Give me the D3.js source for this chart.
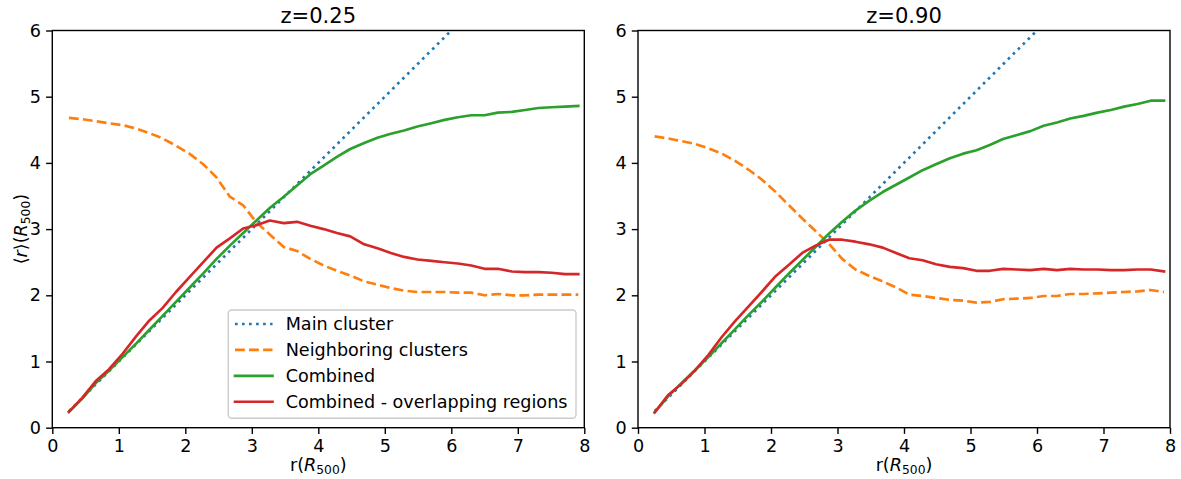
<!DOCTYPE html>
<html>
<head>
<meta charset="utf-8">
<script src="https://cdn.jsdelivr.net/npm/d3@7"></script>
<style>
  html, body { margin: 0; padding: 0; background: #ffffff; }
  svg { display: block; }
  text { font-family: "DejaVu Sans", sans-serif; fill: #000; }
</style>
</head>
<body>
<svg id="chart" width="1181" height="479"></svg>
<script>
// ---------------- data ----------------
const rGrid = [0.25, 0.45, 0.65, 0.85, 1.06, 1.26, 1.46, 1.66, 1.86, 2.06, 2.27, 2.47, 2.67, 2.87, 3.07, 3.27, 3.48, 3.68, 3.88, 4.08,
               4.28, 4.48, 4.69, 4.89, 5.09, 5.29, 5.49, 5.70, 5.90, 6.10, 6.30, 6.50, 6.70, 6.91, 7.11, 7.31, 7.51, 7.71, 7.91];

// z = 0.25
const mainZ025 = [0.25, 0.45, 0.65, 0.85, 1.06, 1.26, 1.46, 1.66, 1.86, 2.06, 2.27, 2.47, 2.67, 2.87, 3.07, 3.27, 3.48, 3.68, 3.88, 4.08,
                  4.28, 4.48, 4.69, 4.89, 5.09, 5.29, 5.49, 5.70, 5.90, 6.10, 6.30, 6.50, 6.70, 6.91, 7.11, 7.31, 7.51, 7.71, 7.91];
const neighZ025 = [4.68, 4.66, 4.63, 4.60, 4.57, 4.52, 4.45, 4.37, 4.26, 4.14, 3.98, 3.78, 3.49, 3.36, 3.10, 2.92, 2.73, 2.67, 2.55, 2.45,
                   2.37, 2.30, 2.21, 2.16, 2.11, 2.07, 2.05, 2.05, 2.05, 2.04, 2.04, 2.00, 2.02, 2.00, 2.00, 2.01, 2.01, 2.01, 2.01];
const combZ025 = [0.24, 0.44, 0.67, 0.86, 1.07, 1.27, 1.48, 1.69, 1.90, 2.11, 2.33, 2.55, 2.75, 2.94, 3.13, 3.32, 3.49, 3.66, 3.83, 3.96,
                  4.09, 4.21, 4.30, 4.38, 4.44, 4.49, 4.55, 4.60, 4.65, 4.69, 4.72, 4.72, 4.76, 4.77, 4.80, 4.83, 4.84, 4.85, 4.86];
const overlapZ025 = [0.24, 0.45, 0.70, 0.88, 1.12, 1.38, 1.62, 1.81, 2.05, 2.27, 2.50, 2.72, 2.86, 3.01, 3.06, 3.13, 3.09, 3.11, 3.05, 3.00,
                     2.94, 2.89, 2.77, 2.71, 2.64, 2.58, 2.54, 2.52, 2.50, 2.48, 2.45, 2.40, 2.40, 2.36, 2.35, 2.35, 2.34, 2.32, 2.32];

// z = 0.90
const mainZ090 = [0.25, 0.45, 0.65, 0.85, 1.06, 1.26, 1.46, 1.66, 1.86, 2.06, 2.27, 2.47, 2.67, 2.87, 3.07, 3.27, 3.48, 3.68, 3.88, 4.08,
                  4.28, 4.48, 4.69, 4.89, 5.09, 5.29, 5.49, 5.70, 5.90, 6.10, 6.30, 6.50, 6.70, 6.91, 7.11, 7.31, 7.51, 7.71, 7.91];
const neighZ090 = [4.40, 4.37, 4.33, 4.29, 4.22, 4.14, 4.03, 3.90, 3.75, 3.57, 3.36, 3.16, 2.97, 2.78, 2.55, 2.39, 2.29, 2.21, 2.12, 2.01,
                   1.99, 1.96, 1.93, 1.92, 1.89, 1.90, 1.94, 1.95, 1.96, 1.99, 1.99, 2.02, 2.02, 2.03, 2.04, 2.05, 2.06, 2.08, 2.05];
const combZ090 = [0.23, 0.47, 0.67, 0.86, 1.07, 1.28, 1.49, 1.70, 1.90, 2.11, 2.33, 2.53, 2.73, 2.93, 3.11, 3.28, 3.43, 3.56, 3.67, 3.78,
                  3.89, 3.98, 4.07, 4.14, 4.19, 4.27, 4.36, 4.42, 4.48, 4.56, 4.61, 4.67, 4.71, 4.76, 4.80, 4.85, 4.89, 4.94, 4.94];
const overlapZ090 = [0.23, 0.49, 0.66, 0.86, 1.10, 1.37, 1.61, 1.83, 2.05, 2.28, 2.46, 2.64, 2.75, 2.84, 2.84, 2.81, 2.77, 2.72, 2.64, 2.56,
                     2.53, 2.47, 2.43, 2.41, 2.37, 2.37, 2.40, 2.39, 2.38, 2.40, 2.38, 2.40, 2.39, 2.39, 2.38, 2.38, 2.39, 2.39, 2.36];

const panelTitles = ["z=0.25", "z=0.90"];
const seriesNames = ["Main cluster", "Neighboring clusters", "Combined", "Combined - overlapping regions"];
const xTicks = [0, 1, 2, 3, 4, 5, 6, 7, 8];
const yTicks = [0, 1, 2, 3, 4, 5, 6];
const xDomain = [0, 8];
const yDomain = [0, 6];

// ---------------- styles / layout ----------------
const lw = 2.65;
const seriesStyles = [
  { color: "#1f77b4", dash: `${1 * lw},${1.65 * lw}` },
  { color: "#ff7f0e", dash: `${3.7 * lw},${1.6 * lw}` },
  { color: "#2ca02c", dash: null },
  { color: "#d62728", dash: null }
];
const fontSize = 17.6;
const titleSize = 21.1;
const plotTop = 30.5, plotBottom = 427.7;
const panelLayout = [
  { left: 52.3, right: 584.3 },
  { left: 638.0, right: 1170.0 }
];
const panelData = [
  [mainZ025, neighZ025, combZ025, overlapZ025],
  [mainZ090, neighZ090, combZ090, overlapZ090]
];

const svg = d3.select("#chart");
svg.append("rect").attr("width", 1181).attr("height", 479).attr("fill", "#fff");
const defs = svg.append("defs");

function addMathLabel(sel, parts) {
  // parts: array of [text, kind] where kind = 'n' normal, 'i' italic, 's' subscript
  let prevSub = false;
  parts.forEach(([t, kind]) => {
    const ts = sel.append("tspan").text(t);
    if (kind === "i") ts.attr("font-style", "italic");
    if (kind === "s") {
      ts.attr("font-size", (fontSize * 0.7).toFixed(2) + "px").attr("dy", "0.22em");
      prevSub = true;
    } else if (prevSub) {
      ts.attr("dy", (-0.22 * 0.7 / 1).toFixed(3) + "em");
      prevSub = false;
    }
  });
}

panelLayout.forEach((pl, pi) => {
  const x = d3.scaleLinear().domain(xDomain).range([pl.left, pl.right]);
  const y = d3.scaleLinear().domain(yDomain).range([plotBottom, plotTop]);
  const g = svg.append("g");

  const clipId = "clip" + pi;
  defs.append("clipPath").attr("id", clipId)
    .append("rect")
    .attr("x", x(xDomain[0])).attr("y", y(yDomain[1]))
    .attr("width", x(xDomain[1]) - x(xDomain[0]))
    .attr("height", y(yDomain[0]) - y(yDomain[1]));

  const line = d3.line()
    .x((d, i) => x(rGrid[i]))
    .y(d => y(d));

  const lines = g.append("g").attr("clip-path", `url(#${clipId})`);
  panelData[pi].forEach((vals, si) => {
    const st = seriesStyles[si];
    lines.append("path")
      .datum(vals)
      .attr("d", line)
      .attr("fill", "none")
      .attr("stroke", st.color)
      .attr("stroke-width", lw)
      .attr("stroke-linejoin", "round")
      .attr("stroke-linecap", st.dash ? "butt" : "square")
      .attr("stroke-dasharray", st.dash);
  });

  // axes
  const xAxis = d3.axisBottom(x).tickValues(xTicks).tickFormat(d3.format("d"))
    .tickSize(6.2).tickSizeOuter(0).tickPadding(5.2);
  const yAxis = d3.axisLeft(y).tickValues(yTicks).tickFormat(d3.format("d"))
    .tickSize(6.2).tickSizeOuter(0).tickPadding(5.2);

  const gx = g.append("g").attr("transform", `translate(0,${plotBottom})`).call(xAxis);
  const gy = g.append("g").attr("transform", `translate(${pl.left},0)`).call(yAxis);
  [gx, gy].forEach(a => {
    a.select(".domain").remove();
    a.selectAll(".tick line").attr("stroke", "#000").attr("stroke-width", 1.4);
    a.selectAll(".tick text").attr("font-size", fontSize + "px")
      .attr("font-family", "DejaVu Sans").attr("fill", "#000");
  });

  // frame
  g.append("rect")
    .attr("x", pl.left).attr("y", plotTop)
    .attr("width", pl.right - pl.left).attr("height", plotBottom - plotTop)
    .attr("fill", "none").attr("stroke", "#000").attr("stroke-width", 1.4);

  // title
  g.append("text")
    .attr("x", (pl.left + pl.right) / 2).attr("y", 23)
    .attr("text-anchor", "middle")
    .attr("font-size", titleSize + "px")
    .text(panelTitles[pi]);

  // x label
  const xl = g.append("text")
    .attr("x", (pl.left + pl.right) / 2).attr("y", 471)
    .attr("text-anchor", "middle")
    .attr("font-size", fontSize + "px");
  addMathLabel(xl, [["r(", "n"], ["R", "i"], ["500", "s"], [")", "n"]]);

  if (pi === 0) {
    // y label
    const yl = g.append("text")
      .attr("transform", `translate(27,${(plotTop + plotBottom) / 2}) rotate(-90)`)
      .attr("text-anchor", "middle")
      .attr("font-size", fontSize + "px");
    addMathLabel(yl, [["\u27E8", "n"], ["r", "i"], ["\u27E9(", "n"], ["R", "i"], ["500", "s"], [")", "n"]]);

    // legend
    const lg = g.append("g");
    const box = { x0: 228.3, y0: 310.0, x1: 576.0, y1: 418.3 };
    lg.append("rect")
      .attr("x", box.x0).attr("y", box.y0)
      .attr("width", box.x1 - box.x0).attr("height", box.y1 - box.y0)
      .attr("rx", 3.5).attr("ry", 3.5)
      .attr("fill", "#fff").attr("fill-opacity", 0.8)
      .attr("stroke", "#cccccc").attr("stroke-width", 1.4);
    const rowY = d3.scalePoint().domain(seriesNames).range([324.0, 401.7]);
    seriesNames.forEach((name, si) => {
      const st = seriesStyles[si];
      const cy = rowY(name);
      lg.append("line")
        .attr("x1", 235).attr("x2", 272.5)
        .attr("y1", cy).attr("y2", cy)
        .attr("stroke", st.color).attr("stroke-width", lw)
        .attr("stroke-linecap", st.dash ? "butt" : "square")
        .attr("stroke-dasharray", st.dash);
      lg.append("text")
        .attr("x", 285.7).attr("y", cy).attr("dy", "0.36em")
        .attr("font-size", fontSize + "px")
        .text(name);
    });
  }
});
</script>
</body>
</html>
